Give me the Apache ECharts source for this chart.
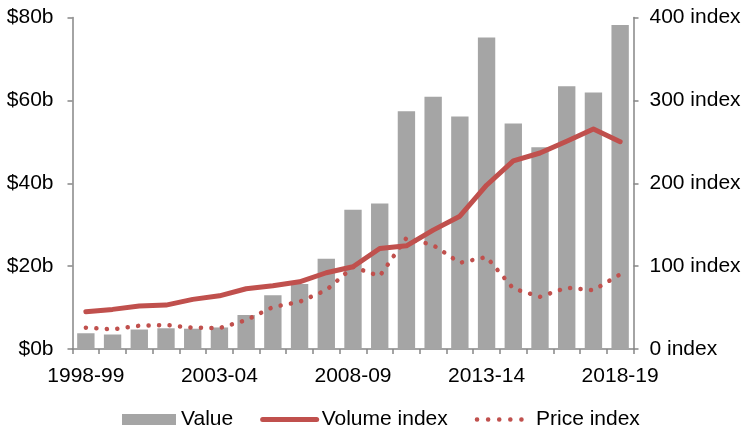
<!DOCTYPE html>
<html>
<head>
<meta charset="utf-8">
<script src="https://cdn.jsdelivr.net/npm/echarts@6/dist/echarts.min.js"></script>
<style>
html,body{margin:0;padding:0;background:#fff;}
#chart{width:746px;height:428px;}
</style>
</head>
<body>
<div id="chart"></div>
<script>
var categories = ['1998-99','1999-00','2000-01','2001-02','2002-03','2003-04','2004-05','2005-06','2006-07','2007-08','2008-09','2009-10','2010-11','2011-12','2012-13','2013-14','2014-15','2015-16','2016-17','2017-18','2018-19'];
var valueData = [3.8, 3.5, 4.7, 5.0, 4.9, 5.2, 8.2, 13.0, 15.7, 21.8, 33.6, 35.1, 57.4, 60.9, 56.1, 75.2, 54.4, 48.7, 63.4, 61.9, 78.2];
var volumeIndex = [45, 47.8, 51.8, 53, 59.9, 64.2, 72.7, 76.3, 81.1, 92, 99.2, 121.3, 124.5, 143.4, 160.2, 197.6, 226.9, 236.5, 250.6, 265.4, 250.2];
var priceIndex = [25.7, 23.7, 28.1, 29, 25.7, 25.3, 34.9, 50.6, 57, 71, 99, 88, 134, 125.3, 104, 111, 73, 63, 74, 71, 90];
var leftTicks = {min: 0, max: 80, interval: 20};
var rightTicks = {min: 0, max: 400, interval: 100};

var FONT = '"Liberation Sans", Arial, sans-serif';
var FS = 21;
var AXIS_COLOR = '#868686';
var RED = '#C0504D';
var GRAY = '#A5A5A5';

var chart = echarts.init(document.getElementById('chart'), null, {renderer: 'canvas'});
chart.setOption({
  animation: false,
  textStyle: {fontFamily: FONT},
  grid: {left: 72.5, right: 112.5, top: 17.5, bottom: 79, containLabel: false, outerBoundsMode: 'none'},
  legend: {
    left: 117, top: 404,
    itemWidth: 54, itemHeight: 11, itemGap: 27,
    textStyle: {fontFamily: FONT, fontSize: FS, color: '#000'},
    data: [
      {name: 'Value', icon: 'rect'},
      {name: 'Volume index', itemStyle: {opacity: 0}, lineStyle: {width: 5, color: RED, cap: 'round'}},
      {name: 'Price index', itemStyle: {opacity: 0}, lineStyle: {width: 4.5, color: RED, type: [0.1, 11], cap: 'round'}}
    ]
  },
  xAxis: {
    type: 'category',
    data: categories,
    boundaryGap: true,
    axisLine: {lineStyle: {color: AXIS_COLOR, width: 1.5}},
    axisTick: {show: true, interval: 0, length: 5, alignWithLabel: false, lineStyle: {color: AXIS_COLOR, width: 1.5}},
    axisLabel: {interval: 4, margin: 17, fontSize: FS, color: '#000', fontFamily: FONT},
    splitLine: {show: false}
  },
  yAxis: [
    {
      type: 'value', position: 'left',
      min: leftTicks.min, max: leftTicks.max, interval: leftTicks.interval,
      axisLine: {show: true, lineStyle: {color: AXIS_COLOR, width: 1.5}},
      axisTick: {show: true, length: 5, lineStyle: {color: AXIS_COLOR, width: 1.5}},
      axisLabel: {margin: 19, fontSize: FS, color: '#000', fontFamily: FONT, formatter: function (v) { return '$' + v + 'b'; }},
      splitLine: {show: false}
    },
    {
      type: 'value', position: 'right',
      min: rightTicks.min, max: rightTicks.max, interval: rightTicks.interval,
      axisLine: {show: true, lineStyle: {color: AXIS_COLOR, width: 1.5}},
      axisTick: {show: true, length: 5, lineStyle: {color: AXIS_COLOR, width: 1.5}},
      axisLabel: {margin: 16, fontSize: FS, color: '#000', fontFamily: FONT, formatter: function (v) { return v + ' index'; }},
      splitLine: {show: false}
    }
  ],
  series: [
    {
      name: 'Value', type: 'bar', yAxisIndex: 0, data: valueData,
      barWidth: '65%',
      itemStyle: {color: GRAY}
    },
    {
      name: 'Volume index', type: 'line', yAxisIndex: 1, data: volumeIndex,
      symbol: 'none', showSymbol: false,
      lineStyle: {color: RED, width: 5, cap: 'round', join: 'round'},
      itemStyle: {color: RED}
    },
    {
      name: 'Price index', type: 'line', yAxisIndex: 1, data: priceIndex,
      symbol: 'none', showSymbol: false,
      lineStyle: {color: RED, width: 4.5, type: [0.1, 10.4], cap: 'round', join: 'round'},
      itemStyle: {color: RED}
    }
  ]
});
</script>
</body>
</html>
